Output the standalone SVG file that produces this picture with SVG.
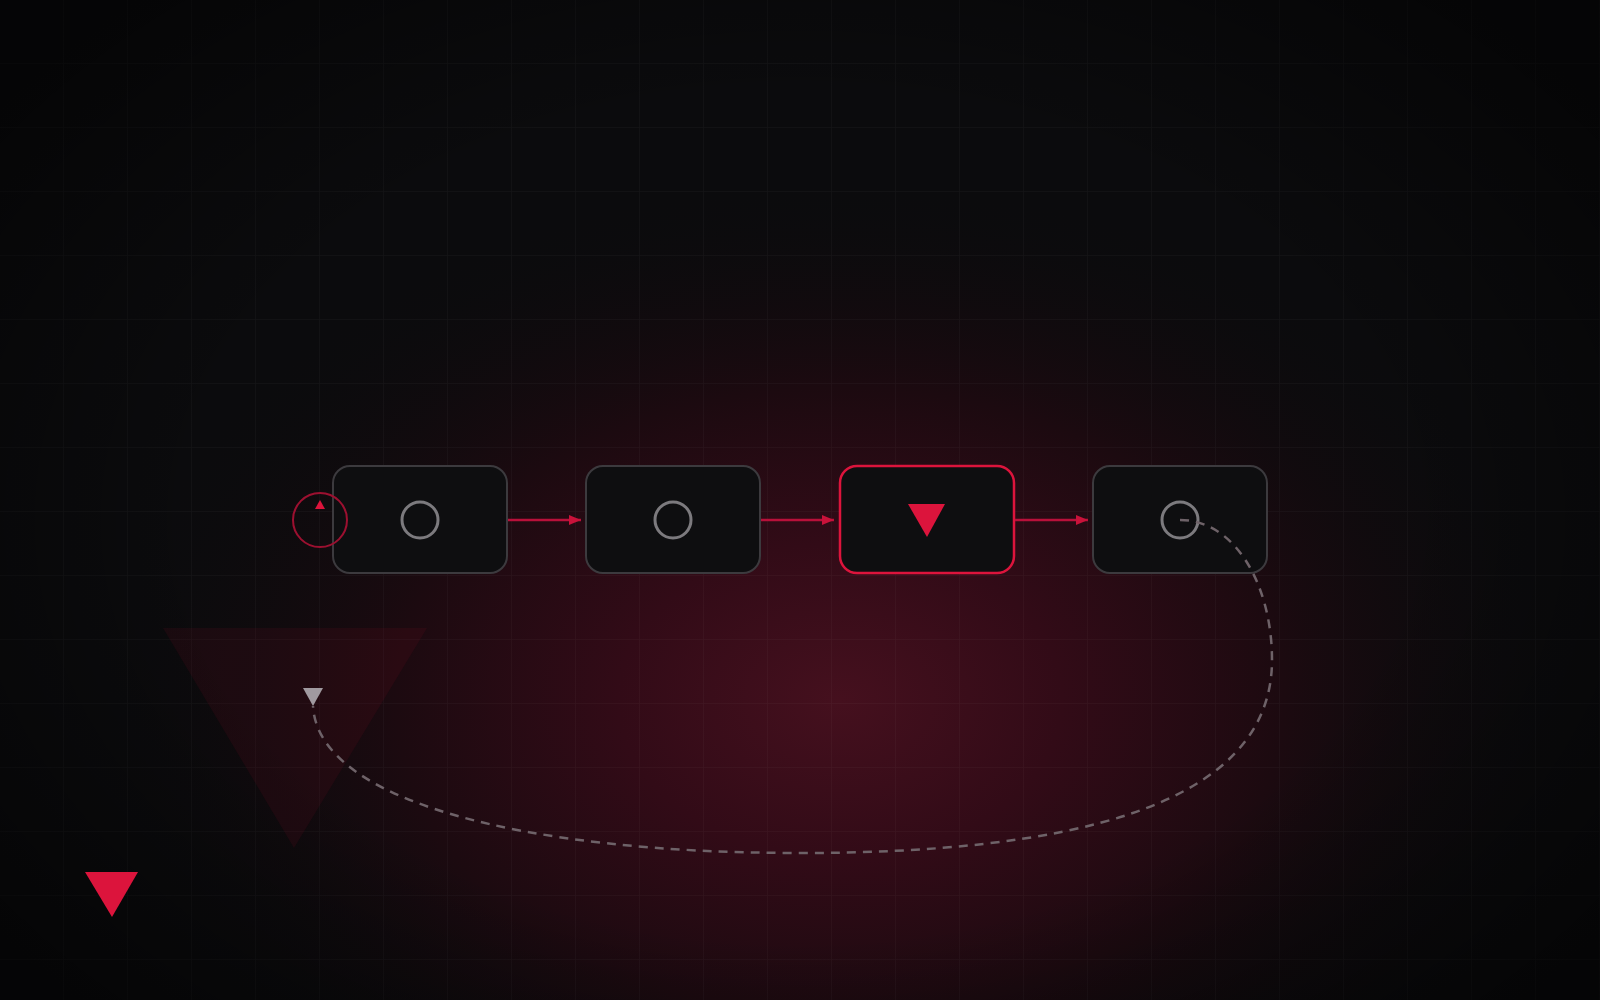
<svg xmlns="http://www.w3.org/2000/svg" width="1600" height="1000" viewBox="0 0 1600 1000">
<defs>
<radialGradient id="glow" gradientUnits="userSpaceOnUse" cx="0" cy="0" r="1" gradientTransform="translate(840 700) scale(740 520)">
<stop offset="0" stop-color="#45101e"/>
<stop offset="0.3" stop-color="#320b17"/>
<stop offset="0.6" stop-color="#1c0a10"/>
<stop offset="1" stop-color="#0b0b0d" stop-opacity="0"/>
</radialGradient>
<radialGradient id="vig" gradientUnits="userSpaceOnUse" cx="0" cy="0" r="1" gradientTransform="translate(800 520) scale(1000 700)">
<stop offset="0.6" stop-color="#000" stop-opacity="0"/>
<stop offset="1" stop-color="#000" stop-opacity="0.55"/>
</radialGradient>
<pattern id="grid" width="64" height="64" patternUnits="userSpaceOnUse">
<path d="M64 0V64M0 64H64" fill="none" stroke="#ffffff" stroke-opacity="0.035" stroke-width="1.5"/>
</pattern>
<marker id="arr" viewBox="0 0 12 10" refX="12" refY="5" markerWidth="12" markerHeight="10" markerUnits="userSpaceOnUse" orient="auto">
<path d="M0 0L12 5L0 10Z" fill="#c8123a"/>
</marker>
<style>
.node{fill:#0e0e10;stroke:#3c3a3e;stroke-width:2}
.hot{stroke:#dc143c;stroke-width:2.5}
.ring{fill:none;stroke:#7c7a7e;stroke-width:3}
.link{stroke:#b8103a;stroke-width:2.5;fill:none}
.loop{fill:none;stroke:#6e6268;stroke-width:2.5;stroke-dasharray:9 7}
</style>
</defs>
<rect width="1600" height="1000" fill="#0b0b0d"/>
<rect width="1600" height="1000" fill="url(#glow)"/>
<rect width="1600" height="1000" fill="url(#grid)"/>
<rect width="1600" height="1000" fill="url(#vig)"/>
<polygon points="163,628 427,628 294,848" fill="#dc143c" fill-opacity="0.07"/>
<polygon points="85,872 138,872 112,917" fill="#dc143c"/>
<g id="node1">
<rect class="node" x="333" y="466" width="174" height="107" rx="17"/>
<circle class="ring" cx="420" cy="520" r="18"/>
</g>
<g id="node2">
<rect class="node" x="586" y="466" width="174" height="107" rx="17"/>
<circle class="ring" cx="673" cy="520" r="18"/>
</g>
<g id="node3">
<rect class="node hot" x="840" y="466" width="174" height="107" rx="17"/>
<polygon points="908,504 945,504 927,537" fill="#dc143c"/>
</g>
<g id="node4">
<rect class="node" x="1093" y="466" width="174" height="107" rx="17"/>
<circle class="ring" cx="1180" cy="520" r="18"/>
</g>
<g id="start">
<circle cx="320" cy="520" r="27" fill="none" stroke="#9c1030" stroke-width="2"/>
<polygon points="320,500 325,509 315,509" fill="#dc143c"/>
</g>
<g id="connectors">
<line class="link" x1="508" y1="520" x2="581" y2="520" marker-end="url(#arr)"/>
<line class="link" x1="761" y1="520" x2="834" y2="520" marker-end="url(#arr)"/>
<line class="link" x1="1015" y1="520" x2="1088" y2="520" marker-end="url(#arr)"/>
<path class="loop" d="M1180 520C1235 520 1272 585 1272 660C1272 810 1060 853 800 853C520 853 318 800 313 706"/>
<polygon points="303,688 323,688 313,706" fill="#a09aa0"/>
</g>
</svg>
